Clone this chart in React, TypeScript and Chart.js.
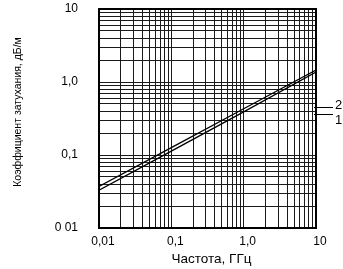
import React, { useEffect, useRef } from "react";
import { Chart, registerables } from "chart.js";

Chart.register(...registerables);

const frequencies = [0.01, 0.1, 1, 10];
const series1 = [0.033, 0.113, 0.39, 1.37];
const series2 = [0.037, 0.126, 0.43, 1.46];
const seriesNames = ["1", "2"];
const seriesLabelAt = [0.365, 0.455];

const xTickValues = [0.01, 0.1, 1, 10];
const xTickLabels = ["0,01", "0,1", "1,0", "10"];
const yTickValues = [0.01, 0.1, 1, 10];
const yTickLabels = ["0 01", "0,1", "1,0", "10"];
const minorSteps = [1, 2, 3, 4, 5, 6, 7, 8, 9];

const xTitle = "Частота, ГГц";
const yTitle = "Коэффициент затухания, дБ/м";

const FONT = "'Liberation Sans', Arial, sans-serif";

function gridTicks(decades: number[]) {
  const out: { value: number }[] = [];
  for (let i = 0; i < decades.length; i++) {
    const d = decades[i];
    if (i === decades.length - 1) {
      out.push({ value: d });
    } else {
      for (const m of minorSteps) out.push({ value: +(d * m).toPrecision(6) });
    }
  }
  return out;
}

function labelFor(values: number[], labels: string[], v: number) {
  for (let i = 0; i < values.length; i++) {
    if (Math.abs(values[i] - v) / values[i] < 1e-6) return labels[i];
  }
  return "";
}

export default function App() {
  const ref = useRef<HTMLCanvasElement | null>(null);

  useEffect(() => {
    if (!ref.current) return;
    const overlay = {
      id: "overlay",
      afterDraw(chart: any) {
        const ctx = chart.ctx as CanvasRenderingContext2D;
        const a = chart.chartArea;
        const ys = chart.scales.y;
        ctx.save();
        ctx.strokeStyle = "#000";
        ctx.lineWidth = 2;
        ctx.strokeRect(a.left, a.top, a.right - a.left, a.bottom - a.top);

        ctx.lineWidth = 1;
        ctx.fillStyle = "#000";
        ctx.font = "13px " + FONT;
        ctx.textAlign = "left";
        ctx.textBaseline = "middle";
        seriesNames.forEach((name, i) => {
          const y = Math.round(ys.getPixelForValue(seriesLabelAt[i])) + 0.5;
          ctx.beginPath();
          ctx.moveTo(a.right - 2, y);
          ctx.lineTo(a.right + 17, y);
          ctx.stroke();
          ctx.fillText(name, a.right + 19, y + (i === 0 ? 6 : -2));
        });

        ctx.font = "13.5px " + FONT;
        ctx.textAlign = "center";
        ctx.fillText(xTitle, (a.left + a.right) / 2 + 4, 259);
        ctx.font = "10.5px " + FONT;
        ctx.translate(18, 112);
        ctx.rotate(-Math.PI / 2);
        ctx.fillText(yTitle, 0, 0);
        ctx.restore();
      },
    };

    const chart = new Chart(ref.current, {
      type: "line",
      data: {
        datasets: [
          {
            label: seriesNames[0],
            data: frequencies.map((f, i) => ({ x: f, y: series1[i] })),
            borderColor: "#000",
            borderWidth: 1.3,
            pointRadius: 0,
            fill: false,
          },
          {
            label: seriesNames[1],
            data: frequencies.map((f, i) => ({ x: f, y: series2[i] })),
            borderColor: "#000",
            borderWidth: 1.3,
            pointRadius: 0,
            fill: false,
          },
        ],
      },
      options: {
        responsive: false,
        animation: false,
        layout: { autoPadding: false, padding: { top: 9, right: 27, left: 0, bottom: 0 } },
        plugins: { legend: { display: false }, tooltip: { enabled: false } },
        scales: {
          x: {
            type: "logarithmic",
            min: 0.01,
            max: 10,
            afterBuildTicks: (s: any) => {
              s.ticks = gridTicks(xTickValues);
            },
            afterFit: (s: any) => {
              s.height = 41;
            },
            grid: { color: "#1a1a1a", lineWidth: 1, drawTicks: false },
            border: { display: false },
            ticks: {
              autoSkip: false,
              maxRotation: 0,
              padding: 6,
              labelOffset: 4,
              color: "#000",
              font: { family: FONT, size: 12 },
              callback: (v: any) => labelFor(xTickValues, xTickLabels, Number(v)),
            },
          },
          y: {
            type: "logarithmic",
            min: 0.01,
            max: 10,
            afterBuildTicks: (s: any) => {
              s.ticks = gridTicks(yTickValues);
            },
            afterFit: (s: any) => {
              s.width = 99;
              s.paddingTop = 0;
              s.paddingBottom = 0;
            },
            grid: { color: "#1a1a1a", lineWidth: 1, drawTicks: false },
            border: { display: false },
            ticks: {
              autoSkip: false,
              padding: 21,
              color: "#000",
              font: { family: FONT, size: 12 },
              callback: (v: any) => labelFor(yTickValues, yTickLabels, Number(v)),
            },
          },
        },
      },
      plugins: [overlay],
    });
    return () => chart.destroy();
  }, []);

  return (
    <div style={{ position: "fixed", left: 0, top: 0, width: 343, height: 269, background: "#fff" }}>
      <canvas ref={ref} width={343} height={269} />
    </div>
  );
}
